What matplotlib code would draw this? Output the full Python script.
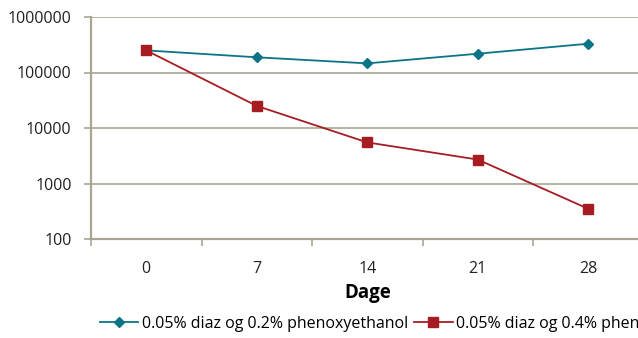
import matplotlib.pyplot as plt
from matplotlib.ticker import FixedLocator, NullFormatter, NullLocator

days = ["0", "7", "14", "21", "28"]
diaz_02 = [250000, 188000, 146000, 218000, 330000]
diaz_04 = [250000, 25000, 5500, 2700, 350]
labels = ["0.05% diaz og 0.2% phenoxyethanol", "0.05% diaz og 0.4% phenoxyethanol"]
y_ticks = [100, 1000, 10000, 100000, 1000000]

axis_col = "#a8a692"
plt.rcParams["font.family"] = ["Open Sans", "DejaVu Sans"]

fig = plt.figure(figsize=(6.38, 3.38), dpi=100)
ax = fig.add_axes([91 / 638, 99 / 338, 552.5 / 638, 222 / 338])

x = range(len(days))
ax.plot(x, diaz_02, color="#0b7486", marker="D", markersize=5.5, lw=1.3, label=labels[0])
ax.plot(x, diaz_04, color="#a61c22", marker="s", markersize=7, lw=1.3, label=labels[1])

ax.set_yscale("log")
ax.set_ylim(100, 1000000)
ax.set_xlim(-0.5, 4.5)
ax.yaxis.set_major_locator(FixedLocator(y_ticks))
ax.yaxis.set_minor_locator(NullLocator())
ax.set_yticklabels([str(v) for v in y_ticks])

# category boundaries get the tick marks, labels sit in between
ax.xaxis.set_major_locator(FixedLocator([-0.5, 0.5, 1.5, 2.5, 3.5, 4.5]))
ax.xaxis.set_major_formatter(NullFormatter())
ax.xaxis.set_minor_locator(FixedLocator(list(x)))
ax.set_xticklabels(days, minor=True)
ax.tick_params(axis="x", which="minor", length=0, pad=16, labelsize=11.5, labelcolor="#222222")
ax.tick_params(axis="x", which="major", length=5, width=1.2, color=axis_col)
ax.tick_params(axis="y", length=5, width=1.2, color=axis_col, labelsize=11.5, labelcolor="#222222", pad=9)

ax.grid(axis="y", color=axis_col, lw=1.2)
ax.set_axisbelow(True)
for s in ["top", "right"]:
    ax.spines[s].set_visible(False)
for s in ["left", "bottom"]:
    ax.spines[s].set_color(axis_col)
    ax.spines[s].set_linewidth(1.6)

ax.set_xlabel("Dage", fontsize=13.5, fontweight="bold", labelpad=4)

fig.legend(loc="upper left", bbox_to_anchor=(100 / 638, 1 - 316 / 338), ncol=2, frameon=False,
           fontsize=11.5, handlelength=2.4, handletextpad=0.2, columnspacing=0.4,
           borderaxespad=0, borderpad=0)

fig.savefig("out.png", dpi=100)
